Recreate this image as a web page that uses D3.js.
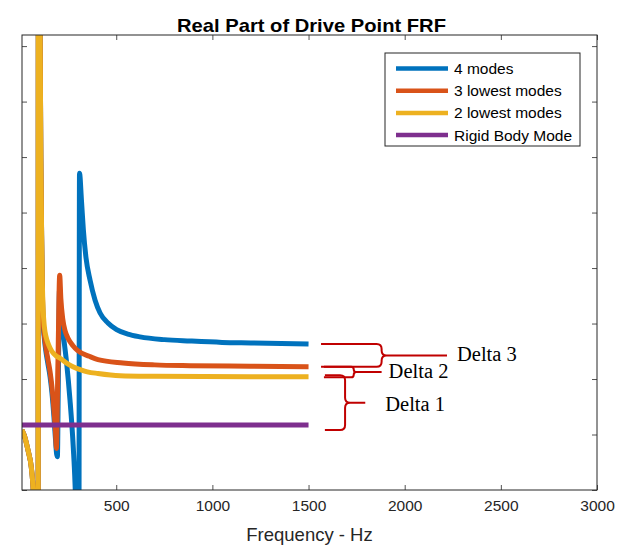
<!DOCTYPE html>
<html>
<head>
<meta charset="utf-8">
<script src="https://cdn.jsdelivr.net/npm/d3@7"></script>
<style>
	body { margin: 0; background: #fff; }
	svg { display: block; }
</style>
</head>
<body>
<div id="chart"></div>
<script>
/* values: frequency in Hz, real part in (unlabelled) axis units */
const freq4 = [10, 24, 41, 58, 66, 71, 76.6, 81.8, 87, 92, 96, 100, 104, 108, 112, 116, 120, 126, 135, 145, 156, 166, 176, 184, 190, 194, 199, 205, 212.8, 224.8, 241.4, 259.6, 276.8, 285.6, 290.8, 296, 301.2, 304.3, 309, 319, 329, 343, 364, 390, 416, 457, 502, 560, 624, 750, 884, 1050, 1200, 1500];
const real4 = [1.08, 0.96, 0.72, 0.42, 0.13, -0.18, -0.9, -2.34, -7.4, -30, 30, 12, 8.3, 6.0, 4.6, 3.55, 3.0, 2.74, 2.48, 2.27, 2.04, 1.74, 1.32, 0.92, 0.65, 0.6, 2.0, 3.6, 3.1, 2.79, 2.31, 1.62, 0.76, 0.13, -0.45, -1.44, -3.42, -6, 5.71, 5.23, 4.69, 4.18, 3.78, 3.42, 3.19, 3.01, 2.89, 2.81, 2.76, 2.71, 2.685, 2.66, 2.65, 2.63];

const freq3 = [10, 24, 41, 58, 66, 71, 76.6, 81.8, 87, 92, 96, 100, 104, 108, 112, 116, 120, 126, 135, 145, 156, 166, 176, 184, 189, 197, 206, 212, 222, 235, 250, 275, 300, 360, 405, 535, 700, 884, 1196, 1500];
const real3 = [1.08, 0.96, 0.72, 0.42, 0.13, -0.18, -0.9, -2.34, -7.4, -30, 30, 12, 8.3, 6.0, 4.6, 3.6, 3.05, 2.8, 2.55, 2.35, 2.13, 1.85, 1.45, 1.06, 0.75, 2.3, 3.87, 3.45, 3.08, 2.86, 2.73, 2.6, 2.51, 2.41, 2.35, 2.29, 2.255, 2.24, 2.23, 2.22];

const freq2 = [10, 24, 41, 58, 66, 71, 76.6, 81.8, 87, 92, 96, 100, 104, 108, 112, 116, 120, 126, 135, 148, 165, 190, 210, 240, 275, 320, 350, 405, 520, 700, 950, 1200, 1500];
const real2 = [1.08, 0.96, 0.72, 0.42, 0.13, -0.18, -0.9, -2.34, -7.4, -30, 30, 12, 8.3, 6.0, 4.6, 3.7, 3.25, 2.95, 2.76, 2.62, 2.5, 2.41, 2.37, 2.29, 2.22, 2.16, 2.13, 2.10, 2.06, 2.05, 2.045, 2.042, 2.04];

const freqRigid = [10, 1500];
const realRigid = [1.17, 1.17];

const seriesNames = ["4 modes", "3 lowest modes", "2 lowest modes", "Rigid Body Mode"];
const seriesColors = ["#0072BD", "#D95319", "#EDB120", "#7E2F8E"];
const xTicks = [500, 1000, 1500, 2000, 2500, 3000];
const yTicks = [0, 1, 2, 3, 4, 5, 6, 7, 8];
const deltaLabels = ["Delta 3", "Delta 2", "Delta 1"];

const width = 628, height = 548;
const margin = { top: 35, right: 31, bottom: 58, left: 22 };
const innerW = width - margin.left - margin.right;
const innerH = height - margin.top - margin.bottom;
const axisColor = "#262626";
const fontSans = "'Liberation Sans', Arial, Helvetica, sans-serif";

const svg = d3.select("#chart")
	.append("svg")
	.attr("width", width)
	.attr("height", height);

const x = d3.scaleLinear().domain([10, 3000]).range([margin.left, margin.left + innerW]);
const y = d3.scaleLinear().domain([0, 8.2]).range([margin.top + innerH, margin.top]);

svg.append("clipPath").attr("id", "plot-clip")
	.append("rect")
	.attr("x", margin.left).attr("y", margin.top)
	.attr("width", innerW).attr("height", innerH);

/* title */
svg.append("text")
	.attr("x", 311.5)
	.attr("y", 32)
	.attr("text-anchor", "middle")
	.attr("font-family", fontSans)
	.attr("font-weight", "bold")
	.attr("font-size", "19px")
	.attr("textLength", 269)
	.attr("lengthAdjust", "spacingAndGlyphs")
	.attr("fill", "#000")
	.text("Real Part of Drive Point FRF");

/* axes: ticks pointing inward, mirrored on top and right */
const tickLen = 5;
const xAxisBottom = d3.axisBottom(x).tickValues(xTicks).tickFormat(d3.format("d"))
	.tickSizeInner(-tickLen).tickSizeOuter(0).tickPadding(10);
const xAxisTop = d3.axisTop(x).tickValues(xTicks).tickSizeInner(-tickLen).tickSizeOuter(0).tickFormat("");
const yAxisLeft = d3.axisLeft(y).tickValues(yTicks).tickSizeInner(-tickLen).tickSizeOuter(0).tickFormat("");
const yAxisRight = d3.axisRight(y).tickValues(yTicks).tickSizeInner(-tickLen).tickSizeOuter(0).tickFormat("");

function styleAxis(g) {
	g.select(".domain").remove();
	g.selectAll(".tick line").attr("stroke", axisColor).attr("stroke-width", 0.8);
	g.selectAll(".tick text")
		.attr("fill", axisColor)
		.attr("font-family", fontSans)
		.attr("font-size", "15.5px");
}

svg.append("g").attr("transform", `translate(0,${margin.top + innerH})`).call(xAxisBottom).call(styleAxis);
svg.append("g").attr("transform", `translate(0,${margin.top})`).call(xAxisTop).call(styleAxis);
svg.append("g").attr("transform", `translate(${margin.left},0)`).call(yAxisLeft).call(styleAxis);
svg.append("g").attr("transform", `translate(${margin.left + innerW},0)`).call(yAxisRight).call(styleAxis);

svg.append("text")
	.attr("x", margin.left + innerW / 2)
	.attr("y", 541)
	.attr("text-anchor", "middle")
	.attr("font-family", fontSans)
	.attr("font-size", "18.5px")
	.attr("fill", axisColor)
	.text("Frequency - Hz");

/* curves */
const series = [
	{ f: freq4, v: real4 },
	{ f: freq3, v: real3 },
	{ f: freq2, v: real2 },
	{ f: freqRigid, v: realRigid }
].map((s, i) => ({
	name: seriesNames[i],
	color: seriesColors[i],
	points: s.f.map((f, j) => ({ f: f, v: s.v[j] }))
}));

const line = d3.line()
	.x((d) => x(d.f))
	.y((d) => y(d.v))
	.curve(d3.curveMonotoneX);

svg.append("g")
	.attr("class", "lines")
	.attr("clip-path", "url(#plot-clip)")
	.selectAll("path")
	.data(series)
	.enter()
	.append("path")
		.attr("d", (d) => line(d.points))
		.attr("fill", "none")
		.attr("stroke", (d) => d.color)
		.attr("stroke-width", 5)
		.attr("stroke-linejoin", "round");

/* box */
svg.append("rect")
	.attr("x", margin.left).attr("y", margin.top)
	.attr("width", innerW).attr("height", innerH)
	.attr("fill", "none")
	.attr("stroke", axisColor)
	.attr("stroke-width", 1);

/* legend */
const legend = svg.append("g").attr("transform", "translate(385,53)");
legend.append("rect")
	.attr("width", 195).attr("height", 93)
	.attr("fill", "#fff")
	.attr("stroke", axisColor)
	.attr("stroke-width", 1);

const legendRows = legend.selectAll(".row")
	.data(series)
	.enter()
	.append("g")
		.attr("class", "row")
		.attr("transform", (d, i) => `translate(0,${15.5 + i * 22.2})`);

legendRows.append("line")
	.attr("x1", 11).attr("x2", 63)
	.attr("stroke", (d) => d.color)
	.attr("stroke-width", 4.5);

legendRows.append("text")
	.attr("x", 69)
	.attr("y", 5.5)
	.attr("font-family", fontSans)
	.attr("font-size", "15.5px")
	.attr("fill", "#000")
	.text((d) => d.name);

/* Delta brackets between the curve end values */
const endValue = (s) => s.points[s.points.length - 1].v;
const brackets = [
	{ top: endValue(series[0]), bottom: endValue(series[1]), x0: 1565, xv: 1880, tail: 2220, pad: [0, 0], label: deltaLabels[0], dx: 10, dy: 6 },
	{ top: endValue(series[1]), bottom: endValue(series[2]), x0: 1580, xv: 1735, tail: 1880, pad: [0, -0.5], label: deltaLabels[1], dx: 7, dy: 6 },
	{ top: endValue(series[2]), bottom: endValue(series[3]), x0: 1585, xv: 1690, tail: 1795, pad: [-1.5, -5], label: deltaLabels[2], dx: 20, dy: 8 }
];

function bracePath(x0, xv, xt, y1, y2) {
	const r = Math.min(5, (y2 - y1) / 4);
	const ym = (y1 + y2) / 2;
	return `M${x0},${y1} L${xv - r},${y1} Q${xv},${y1} ${xv},${y1 + r}` +
		` L${xv},${ym - r} Q${xv},${ym} ${xv + r},${ym} L${xt},${ym}` +
		` M${xv + r},${ym} Q${xv},${ym} ${xv},${ym + r}` +
		` L${xv},${y2 - r} Q${xv},${y2} ${xv - r},${y2} L${x0},${y2}`;
}

const ann = svg.append("g").attr("class", "deltas");
brackets.forEach((b) => {
	const y1 = y(b.top) + b.pad[0];
	const y2 = y(b.bottom) - b.pad[1];
	ann.append("path")
		.attr("d", bracePath(x(b.x0), x(b.xv), x(b.tail), y1, y2))
		.attr("fill", "none")
		.attr("stroke", "#C00000")
		.attr("stroke-width", 2);
	ann.append("text")
		.attr("x", x(b.tail) + b.dx)
		.attr("y", (y1 + y2) / 2 + b.dy)
		.attr("font-family", "'Liberation Serif', 'Times New Roman', serif")
		.attr("font-size", "20.5px")
		.attr("fill", "#000")
		.text(b.label);
});
</script>
</body>
</html>
